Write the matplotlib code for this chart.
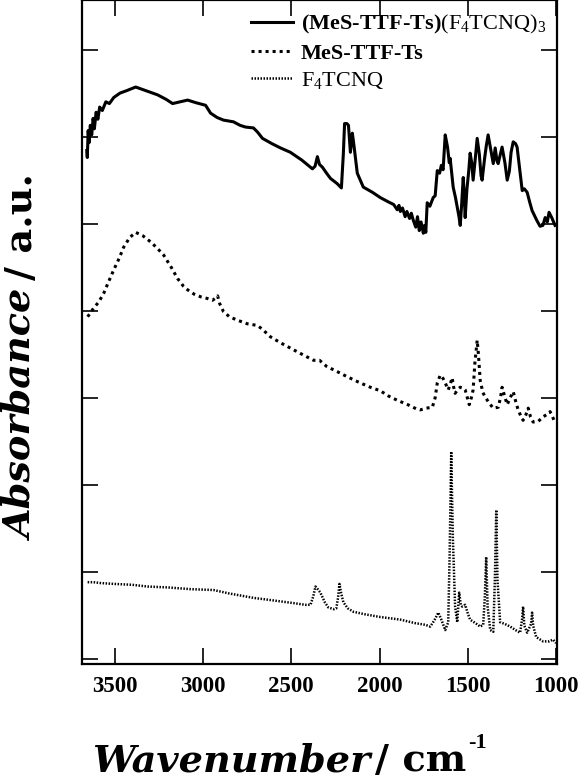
import matplotlib
matplotlib.use("Agg")
import matplotlib.pyplot as plt

plt.rcParams['font.family'] = ['Liberation Serif', 'DejaVu Serif']
plt.rcParams['mathtext.fontset'] = 'custom'
plt.rcParams['mathtext.rm'] = 'Liberation Serif'
plt.rcParams['mathtext.it'] = 'Liberation Serif:italic'
plt.rcParams['mathtext.bf'] = 'Liberation Serif:bold'

# ---- data (wavenumber / cm-1, absorbance offset a.u.) ----
complex_wn = [3658, 3655, 3650, 3645, 3638, 3630, 3622, 3615, 3605, 3595, 3585, 3570, 3550, 3530, 3505,
              3470, 3430, 3381, 3340, 3300, 3257, 3210, 3172, 3130, 3087, 3040, 2985, 2957, 2920, 2884,
              2855, 2827, 2790, 2759, 2714, 2690, 2663, 2610, 2561, 2505, 2440, 2380, 2365, 2352, 2340,
              2324, 2300, 2278, 2240, 2216, 2205, 2198, 2185, 2176, 2165, 2154, 2145, 2126, 2092, 2040,
              1996, 1950, 1920, 1900, 1890, 1882, 1870, 1855, 1845, 1830, 1820, 1809, 1795, 1785, 1775,
              1765, 1752, 1745, 1738, 1730, 1715, 1696, 1685, 1673, 1660, 1650, 1640, 1628, 1615, 1605,
              1600, 1590, 1583, 1570, 1560, 1550, 1543, 1535, 1526, 1520, 1515, 1505, 1495, 1487, 1478,
              1470, 1460, 1447, 1435, 1425, 1419, 1405, 1395, 1385, 1370, 1356, 1345, 1335, 1328, 1318,
              1306, 1290, 1277, 1265, 1255, 1243, 1230, 1221, 1205, 1192, 1180, 1164, 1150, 1136, 1110,
              1091, 1075, 1062, 1050, 1040, 1025, 1006]
complex_abs = [5.84, 5.76, 6.07, 5.93, 6.13, 6.02, 6.21, 6.09, 6.28, 6.20, 6.34, 6.30, 6.40, 6.38, 6.45,
               6.50, 6.53, 6.57, 6.54, 6.51, 6.48, 6.43, 6.38, 6.40, 6.42, 6.39, 6.36, 6.27, 6.22, 6.19,
               6.18, 6.17, 6.13, 6.11, 6.10, 6.05, 5.98, 5.92, 5.87, 5.82, 5.73, 5.63, 5.66, 5.77, 5.68,
               5.65, 5.58, 5.52, 5.46, 5.41, 5.80, 6.15, 6.15, 6.13, 5.82, 6.04, 5.90, 5.58, 5.42, 5.36,
               5.30, 5.25, 5.22, 5.16, 5.21, 5.14, 5.18, 5.08, 5.14, 5.06, 5.12, 5.04, 4.96, 5.08, 4.92,
               5.02, 4.89, 4.98, 4.90, 5.24, 5.20, 5.30, 5.32, 5.61, 5.58, 5.67, 5.62, 6.02, 5.88, 5.70,
               5.75, 5.55, 5.42, 5.30, 5.19, 5.08, 4.98, 5.22, 5.53, 5.30, 5.07, 5.40, 5.60, 5.81, 5.70,
               5.50, 5.70, 5.98, 5.80, 5.55, 5.50, 5.75, 5.90, 6.02, 5.85, 5.69, 5.87, 5.72, 5.69, 5.78,
               5.88, 5.70, 5.50, 5.60, 5.82, 5.94, 5.92, 5.88, 5.60, 5.38, 5.40, 5.36, 5.25, 5.15, 5.04,
               4.97, 4.98, 5.07, 5.02, 5.13, 5.07, 4.98]

donor_wn = [3653, 3619, 3590, 3562, 3535, 3505, 3475, 3449, 3415, 3381, 3340, 3296, 3260, 3223, 3180,
            3144, 3110, 3087, 3050, 3014, 2975, 2946, 2925, 2917, 2905, 2884, 2850, 2804, 2750, 2691,
            2660, 2618, 2560, 2505, 2440, 2374, 2340, 2300, 2240, 2182, 2120, 2052, 1996, 1950, 1899,
            1840, 1790, 1769, 1735, 1701, 1685, 1673, 1656, 1640, 1628, 1611, 1600, 1589, 1580, 1572,
            1555, 1543, 1525, 1515, 1500, 1492, 1480, 1470, 1460, 1447, 1440, 1430, 1415, 1402, 1380,
            1356, 1328, 1315, 1306, 1292, 1277, 1260, 1243, 1228, 1215, 1200, 1187, 1172, 1158, 1145,
            1130, 1100, 1074, 1050, 1034, 1020, 1006]
donor_abs = [3.93, 4.03, 4.10, 4.20, 4.33, 4.47, 4.60, 4.73, 4.84, 4.90, 4.86, 4.79, 4.72, 4.64, 4.50,
             4.37, 4.28, 4.24, 4.19, 4.16, 4.14, 4.12, 4.15, 4.17, 4.08, 3.99, 3.93, 3.89, 3.85, 3.83,
             3.78, 3.70, 3.63, 3.57, 3.50, 3.43, 3.43, 3.36, 3.30, 3.24, 3.18, 3.12, 3.08, 3.02, 2.97,
             2.92, 2.87, 2.86, 2.88, 2.89, 3.00, 3.17, 3.26, 3.22, 3.17, 3.09, 3.15, 3.23, 3.12, 3.05,
             3.10, 3.12, 3.11, 3.09, 2.98, 2.92, 3.00, 3.09, 3.40, 3.66, 3.50, 3.20, 3.06, 3.01, 2.94,
             2.88, 2.89, 3.00, 3.12, 3.02, 2.92, 3.00, 3.07, 2.95, 2.86, 2.79, 2.74, 2.80, 2.88, 2.78,
             2.72, 2.73, 2.78, 2.81, 2.84, 2.78, 2.71]

acceptor_wn = [3653, 3620, 3579, 3500, 3400, 3313, 3200, 3070, 2940, 2850, 2714, 2600, 2488, 2420, 2391,
               2375, 2363, 2350, 2335, 2310, 2290, 2260, 2245, 2235, 2227, 2218, 2205, 2180, 2148, 2080,
               1996, 1882, 1800, 1740, 1713, 1690, 1667, 1650, 1628, 1611, 1603, 1594, 1585, 1572, 1560,
               1549, 1540, 1532, 1515, 1500, 1487, 1450, 1430, 1413, 1404, 1396, 1388, 1373, 1356, 1347,
               1339, 1332, 1317, 1290, 1260, 1230, 1204, 1193, 1187, 1180, 1164, 1142, 1136, 1130, 1113,
               1074, 1040, 1017, 1000]
acceptor_abs = [0.88, 0.88, 0.87, 0.86, 0.85, 0.83, 0.82, 0.80, 0.79, 0.75, 0.70, 0.67, 0.64, 0.62, 0.62,
                0.72, 0.83, 0.80, 0.76, 0.65, 0.59, 0.57, 0.58, 0.70, 0.86, 0.76, 0.65, 0.58, 0.54, 0.51,
                0.48, 0.45, 0.41, 0.39, 0.37, 0.44, 0.53, 0.45, 0.33, 0.42, 1.20, 2.38, 1.40, 0.60, 0.42,
                0.76, 0.62, 0.60, 0.62, 0.52, 0.45, 0.40, 0.37, 0.39, 0.70, 1.17, 0.60, 0.33, 0.31, 0.90,
                1.71, 0.90, 0.42, 0.40, 0.37, 0.33, 0.30, 0.45, 0.60, 0.38, 0.30, 0.40, 0.53, 0.38, 0.25,
                0.20, 0.20, 0.22, 0.18]

labels = ['(MeS-TTF-Ts)' + r'$\mathrm{(F_4TCNQ)_3}$', 'MeS-TTF-Ts', r'$\mathrm{F_4TCNQ}$']
x_ticks = [3500, 3000, 2500, 2000, 1500, 1000]

# ---- figure ----
fig = plt.figure(figsize=(5.78, 7.79), dpi=100)
W, H = 578, 779
ax = fig.add_axes([82 / W, (H - 664) / H, (557 - 82) / W, 664 / H])

l1, = ax.plot(complex_wn, complex_abs, color='black', lw=2.2, solid_joinstyle='round')
l2, = ax.plot(donor_wn, donor_abs, color='black', lw=2.2, linestyle=(0, (1, 1.3)))
l3, = ax.plot(acceptor_wn, acceptor_abs, color='black', lw=1.8, linestyle=(0, (0.6, 0.6)))

ax.set_xlim(3685, 995)
ax.set_ylim(-0.06, 7.57)
ax.set_xticks(x_ticks)
ax.set_xticklabels([str(v) for v in x_ticks])
ax.set_yticks(range(8))
ax.tick_params(axis='both', direction='in', length=11.5, width=1.2, top=True, right=True,
               labelleft=False, pad=9)
for lab in ax.get_xticklabels():
    lab.set_fontsize(16.5)
    lab.set_fontweight('bold')
for s in ax.spines.values():
    s.set_linewidth(1.6)

leg = ax.legend([l1, l2, l3], labels, loc='upper right', bbox_to_anchor=(1.005, 1.0),
                frameon=False, handlelength=1.9, handletextpad=0.36, labelspacing=0.3,
                borderaxespad=0.2, prop={'weight': 'bold', 'size': 16})

# ---- axis labels built from pieces (wide serif to match the reference's stretched lettering) ----
fig.canvas.draw()
r = fig.canvas.get_renderer()
lab_family = ['DejaVu Serif']


def fit_size(text, target_px, **kw):
    t = fig.text(0, 0, text, fontsize=20, **kw)
    w = t.get_window_extent(r)
    size = max(w.width, w.height)
    t.remove()
    return 20 * target_px / size


fs_x = fit_size('Wavenumber', 278, family=lab_family, fontweight='bold', fontstyle='italic')
t1 = fig.text(92 / W, (H - 771) / H, 'Wavenumber', fontsize=fs_x, family=lab_family,
              fontweight='bold', fontstyle='italic', ha='left', va='baseline')
bb = t1.get_window_extent(r)
t2 = fig.text(bb.x1 / W + 0.008, (H - 771) / H, '/ cm', fontsize=fs_x, family=lab_family,
              fontweight='bold', ha='left', va='baseline')
bb2 = t2.get_window_extent(r)
fig.text(bb2.x1 / W + 0.003, (H - 748) / H, '-1', fontsize=16, fontweight='bold',
         ha='left', va='baseline')

fs_y = fit_size('Absorbance', 250, family=lab_family, fontweight='bold', fontstyle='italic')
y1 = fig.text(32 / W, (H - 540) / H, 'Absorbance', fontsize=fs_y, family=lab_family,
              fontweight='bold', fontstyle='italic',
              rotation=90, rotation_mode='anchor', ha='left', va='baseline')
bby = y1.get_window_extent(r)
fig.text(32 / W, bby.y1 / H + 0.012, '/ a.u.', fontsize=fs_y, family=lab_family, fontweight='bold',
         rotation=90, rotation_mode='anchor', ha='left', va='baseline')

fig.savefig('out.png', dpi=100)
